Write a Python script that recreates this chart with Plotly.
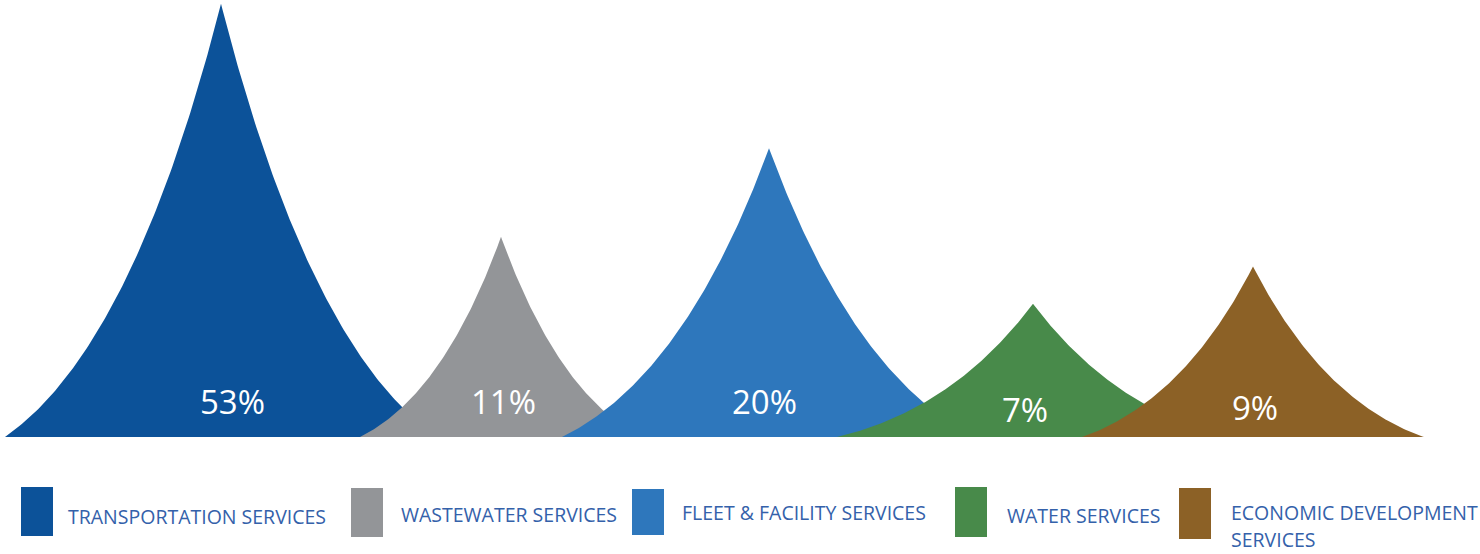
import math
import numpy as np
import plotly.graph_objects as go

# ---- data -------------------------------------------------------------
services = [
    "TRANSPORTATION SERVICES",
    "WASTEWATER SERVICES",
    "FLEET & FACILITY SERVICES",
    "WATER SERVICES",
    "ECONOMIC DEVELOPMENT SERVICES",
]
shares = [53, 11, 20, 7, 9]  # percent of total

# ---- layout / style ---------------------------------------------------
colors = ["#0c5299", "#939598", "#2e77bc", "#488a4a", "#8c6126"]
centers = [221, 501, 769, 1033, 1253]          # peak x (px units on x axis)
half_widths = [216, 141, 207, 196, 171]        # half base width of each peak
label_x = [232, 503, 764, 1025, 1255]
label_y_px = [401, 401, 401, 409, 407]

legend_boxes = [  # x0, x1, y0, y1 in pixels
    (21, 53, 487, 536),
    (351, 383, 488, 537),
    (632, 664, 489, 535),
    (955, 987, 487, 537),
    (1179, 1211, 488, 539),
]
legend_text_x = [66, 399, 680, 1005, 1229]
legend_text_y = [516, 514, 512, 515.5, 512]
legend_lines = [
    ["TRANSPORTATION SERVICES"],
    ["WASTEWATER SERVICES"],
    ["FLEET & FACILITY SERVICES"],
    ["WATER SERVICES"],
    ["ECONOMIC DEVELOPMENT", "SERVICES"],
]
LINE_GAP = 27

W, H = 1480, 554
FONT = "Open Sans"
TEXT_COLOR = "#3461aa"

# log-scaled height axis: the baseline sits at BASE_VALUE
BASE_VALUE = 2.85
PX_PER_LN = 148.2
BASELINE_PX = 437
log_top = math.log10(BASE_VALUE) + BASELINE_PX / PX_PER_LN / math.log(10)
log_bottom = math.log10(BASE_VALUE) - (H - BASELINE_PX) / PX_PER_LN / math.log(10)

# concave side profile (quadratic Bezier from tip to base, normalised)
CTRL_X, CTRL_F = 0.405, 0.206
t = np.linspace(0, 1, 120)
prof_x = 2 * t * (1 - t) * CTRL_X + t ** 2
prof_f = (1 - t) ** 2 + 2 * t * (1 - t) * CTRL_F


def py_to_paper(py):
    return 1 - py / H


fig = go.Figure()

for name, val, col, cx, hw in zip(services, shares, colors, centers, half_widths):
    xs = np.concatenate([cx - hw * prof_x[::-1], cx + hw * prof_x[1:]])
    fs = np.concatenate([prof_f[::-1], prof_f[1:]])
    ys = BASE_VALUE * (val / BASE_VALUE) ** fs
    fig.add_trace(go.Scatter(
        x=xs, y=ys, mode="lines", fill="toself", fillcolor=col,
        line=dict(width=0, color=col), name=name, hoverinfo="skip",
        showlegend=False,
    ))

annotations = []
for val, lx, ly in zip(shares, label_x, label_y_px):
    annotations.append(dict(
        x=lx, y=py_to_paper(ly), xref="x", yref="paper",
        text=f"{val}%", showarrow=False, xanchor="center", yanchor="middle",
        font=dict(family=FONT, size=33, color="white"),
    ))

shapes = []
for (x0, x1, y0, y1), col in zip(legend_boxes, colors):
    shapes.append(dict(
        type="rect", xref="x", yref="paper", x0=x0, x1=x1,
        y0=py_to_paper(y1), y1=py_to_paper(y0),
        fillcolor=col, line=dict(width=0), layer="above",
    ))

for lines, tx, ty in zip(legend_lines, legend_text_x, legend_text_y):
    for i, line in enumerate(lines):
        annotations.append(dict(
            x=tx, y=py_to_paper(ty + i * LINE_GAP), xref="x", yref="paper",
            text=line, showarrow=False, xanchor="left", yanchor="middle",
            font=dict(family=FONT, size=19.5, color=TEXT_COLOR),
        ))

fig.update_layout(
    width=W, height=H,
    margin=dict(l=0, r=0, t=0, b=0),
    paper_bgcolor="white", plot_bgcolor="white",
    xaxis=dict(range=[0, W], visible=False, fixedrange=True),
    yaxis=dict(type="log", range=[log_bottom, log_top], visible=False,
               fixedrange=True),
    shapes=shapes, annotations=annotations,
    showlegend=False,
)

fig.write_html("out.html", config={"displayModeBar": False})
